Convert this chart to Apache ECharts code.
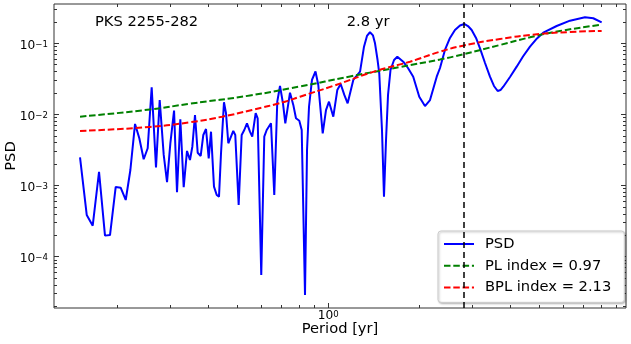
<!DOCTYPE html>
<html>
<head>
<meta charset="utf-8">
<script src="https://cdn.jsdelivr.net/npm/echarts@6/dist/echarts.min.js"></script>
<style>
  html, body { margin: 0; padding: 0; background: #fff; }
  #main { width: 631px; height: 344px; }
</style>
</head>
<body>
<div id="main"></div>
<script>
// PSD
const periods = [0.1506, 0.1585, 0.1659, 0.1741, 0.1822, 0.1893, 0.1977, 0.2053, 0.2134, 0.2211,
  0.2291, 0.2367, 0.2447, 0.2523, 0.2601, 0.2688, 0.2765, 0.2851, 0.2924, 0.2999,
  0.3085, 0.3155, 0.3236, 0.332, 0.3405, 0.3483, 0.3546, 0.3619, 0.3694, 0.378,
  0.3856, 0.3936, 0.4018, 0.4089, 0.4183, 0.4271, 0.4346, 0.4413, 0.4514, 0.4584,
  0.4666, 0.4846, 0.492, 0.5049, 0.5166, 0.527, 0.5379, 0.5503, 0.56, 0.5748,
  0.5836, 0.5998, 0.6138, 0.6252, 0.646, 0.6624, 0.6777, 0.692, 0.7079, 0.7205,
  0.7468, 0.7658, 0.7816, 0.8017, 0.8165, 0.8373, 0.8503, 0.8633, 0.883, 0.907,
  0.9266, 0.9583, 0.9826, 1.0053, 1.039, 1.071, 1.099, 1.13, 1.159, 1.21,
  1.274, 1.313, 1.343, 1.374, 1.406, 1.428, 1.456, 1.475, 1.506, 1.529,
  1.553, 1.577, 1.607, 1.651, 1.693, 1.771, 1.836, 1.911, 2.001, 2.09,
  2.172, 2.286, 2.344, 2.434, 2.529, 2.627, 2.73, 2.82, 2.901, 2.984,
  3.085, 3.18, 3.304, 3.431, 3.537, 3.638, 3.717, 3.797, 3.997, 4.206,
  4.413, 4.655, 4.91, 5.152, 5.705, 6.315, 7.079, 7.543, 8.04];
const psd = [0.00249, 0.000385, 0.000272, 0.00156, 0.000197, 0.000201, 0.000953, 0.000931, 0.000625, 0.00165,
  0.00733, 0.00461, 0.00234, 0.00334, 0.0241, 0.0018, 0.0159, 0.00269, 0.00111, 0.00392,
  0.0113, 0.000802, 0.00853, 0.000943, 0.00306, 0.00228, 0.00351, 0.00981, 0.00289, 0.0026,
  0.00513, 0.00623, 0.00241, 0.00571, 0.000962, 0.000735, 0.000696, 0.00284, 0.0148, 0.0104,
  0.00392, 0.00584, 0.00513, 0.000532, 0.00513, 0.00603, 0.00749, 0.00571, 0.00486, 0.0104,
  0.00881, 0.0000551, 0.00486, 0.00603, 0.00749, 0.000735, 0.0151, 0.0251, 0.0143, 0.00749,
  0.0202, 0.0136, 0.00881, 0.00815, 0.00603, 0.0000288, 0.00316, 0.0128, 0.0305, 0.0401,
  0.0259, 0.00542, 0.0115, 0.0151, 0.00928, 0.022, 0.0268, 0.0188, 0.0143, 0.0305,
  0.0399, 0.0896, 0.127, 0.143, 0.129, 0.1, 0.0582, 0.0378, 0.00603, 0.000696,
  0.00437, 0.0188, 0.0421, 0.0582, 0.0648, 0.0551, 0.0449, 0.0339, 0.0177, 0.0131,
  0.0159, 0.0339, 0.0449, 0.0805, 0.119, 0.154, 0.178, 0.187, 0.175, 0.154,
  0.119, 0.085, 0.0528, 0.0339, 0.0251, 0.0213, 0.022, 0.0245, 0.0336, 0.0469,
  0.0652, 0.0896, 0.117, 0.141, 0.175, 0.208, 0.232, 0.225, 0.197];

// fitted models
const plPeriods = [0.1506, 0.2568, 0.3483, 0.5503, 0.806, 1.18, 1.727, 2.344, 2.793, 3.703, 4.655, 5.85, 8.04];
const plValues = [0.00928, 0.01172, 0.01414, 0.01844, 0.02469, 0.03412, 0.04642, 0.0592, 0.07, 0.0947, 0.1214, 0.149, 0.1826];
const bplPeriods = [0.1506, 0.2568, 0.3483, 0.4446, 0.5588, 0.7188, 0.806, 1.036, 1.45, 1.864, 2.344, 2.793, 3.703, 5.023, 6.315, 8.04];
const bplValues = [0.00584, 0.00665, 0.00774, 0.00928, 0.01153, 0.01509, 0.01774, 0.02508, 0.0412, 0.0551, 0.0762, 0.0925, 0.1149, 0.1351, 0.1442, 0.149];

const peakPeriod = 2.8;

// axes
const xMin = 0.1235, xMax = 9.68;
const yMin = 1.89e-5, yMax = 0.357;
const xMajor = [1];
const xMinor = [0.2, 0.3, 0.4, 0.5, 0.6, 0.7, 0.8, 0.9, 2, 3, 4, 5, 6, 7, 8, 9];
const yMajor = [1e-4, 1e-3, 1e-2, 1e-1];
const yMinor = [2e-5, 3e-5, 4e-5, 5e-5, 6e-5, 7e-5, 8e-5, 9e-5,
  2e-4, 3e-4, 4e-4, 5e-4, 6e-4, 7e-4, 8e-4, 9e-4,
  2e-3, 3e-3, 4e-3, 5e-3, 6e-3, 7e-3, 8e-3, 9e-3,
  2e-2, 3e-2, 4e-2, 5e-2, 6e-2, 7e-2, 8e-2, 9e-2,
  2e-1, 3e-1];

const FONT = 'DejaVu Sans';
const frameColor = '#333';

function powLabel(v) {
  const e = Math.round(Math.log10(v));
  return '{b|10}{s|' + (e < 0 ? '\u2212' + (-e) : e) + '}';
}
const rich = {
  b: { fontFamily: FONT, fontSize: 12.2, color: '#000', lineHeight: 17, padding: [5, 0, 0, 0] },
  s: { fontFamily: FONT, fontSize: 8.6, color: '#000', lineHeight: 10, padding: [5, 0, 0, 0], verticalAlign: 'top' }
};

function logAxis(pos, min, max, ticks, len, labels, extra) {
  return Object.assign({
    type: 'log', position: pos, min: min, max: max,
    axisLine: { show: false },
    splitLine: { show: false },
    axisTick: { show: true, inside: true, length: len, customValues: ticks,
      lineStyle: { color: frameColor, width: 1 } },
    axisLabel: labels ? Object.assign({ customValues: ticks, formatter: powLabel, rich: rich }, labels) : { show: false }
  }, extra || {});
}

const chart = echarts.init(document.getElementById('main'));
chart.setOption({
  animation: false,
  backgroundColor: '#fff',
  grid: { left: 54, right: 5, top: 4, bottom: 36, outerBoundsMode: 'none', containLabel: false,
    show: true, borderColor: frameColor, borderWidth: 1, backgroundColor: 'transparent' },
  xAxis: [
    logAxis('bottom', xMin, xMax, xMajor, 5, { margin: -3 }, {
      name: 'Period [yr]', nameLocation: 'middle', nameGap: 14, nameMoveOverlap: false,
      nameTextStyle: { fontFamily: FONT, fontSize: 14.7, color: '#000' }
    }),
    logAxis('bottom', xMin, xMax, xMinor, 3, false),
    logAxis('top', xMin, xMax, xMajor, 5, false),
    logAxis('top', xMin, xMax, xMinor, 3, false)
  ],
  yAxis: [
    logAxis('left', yMin, yMax, yMajor, 5, { margin: 6 }, {
      name: 'PSD', nameLocation: 'middle', nameGap: 35, nameMoveOverlap: false,
      nameTextStyle: { fontFamily: FONT, fontSize: 14.7, color: '#000' }
    }),
    logAxis('left', yMin, yMax, yMinor, 3, false),
    logAxis('right', yMin, yMax, yMajor, 5, false),
    logAxis('right', yMin, yMax, yMinor, 3, false)
  ],
  legend: {
    orient: 'vertical', left: 438, top: 231,
    padding: [5, 13, 7, 5],
    itemWidth: 30, itemHeight: 16, itemGap: 5.7,
    backgroundColor: '#fff',
    borderColor: '#cccccc', borderWidth: 1, borderRadius: 3,
    shadowColor: 'rgba(0,0,0,0.25)', shadowBlur: 2, shadowOffsetX: 1, shadowOffsetY: 1,
    itemStyle: { opacity: 0 },
    textStyle: { fontFamily: FONT, fontSize: 14.7, color: '#000', lineHeight: 16, padding: [0, 0, 0, 6] },
    data: ['PSD', 'PL index = 0.97', 'BPL index = 2.13']
  },
  graphic: [
    { type: 'text', left: 95, top: 15, style: { text: 'PKS 2255-282', fontFamily: FONT, fontSize: 14.7, fill: '#000' } },
    { type: 'text', left: 346.7, top: 15, style: { text: '2.8 yr', fontFamily: FONT, fontSize: 14.7, fill: '#000' } }
  ],
  series: [
    {
      name: 'PSD', type: 'line', showSymbol: false, symbol: 'none',
      data: periods.map((p, i) => [p, psd[i]]),
      lineStyle: { color: '#0000ff', width: 2 },
      itemStyle: { color: '#0000ff' },
      markLine: {
        silent: true, symbol: 'none', label: { show: false },
        lineStyle: { color: '#000', type: [6, 4], width: 1.5 },
        data: [{ xAxis: peakPeriod }]
      },
      z: 2
    },
    {
      name: 'PL index = 0.97', type: 'line', showSymbol: false, symbol: 'none', smooth: true,
      data: plPeriods.map((p, i) => [p, plValues[i]]),
      lineStyle: { color: '#008000', width: 2, type: [6.5, 2.8] },
      itemStyle: { color: '#008000' },
      z: 3
    },
    {
      name: 'BPL index = 2.13', type: 'line', showSymbol: false, symbol: 'none', smooth: true,
      data: bplPeriods.map((p, i) => [p, bplValues[i]]),
      lineStyle: { color: '#ff0000', width: 2, type: [6.5, 2.8] },
      itemStyle: { color: '#ff0000' },
      z: 4
    }
  ]
});
</script>
</body>
</html>
